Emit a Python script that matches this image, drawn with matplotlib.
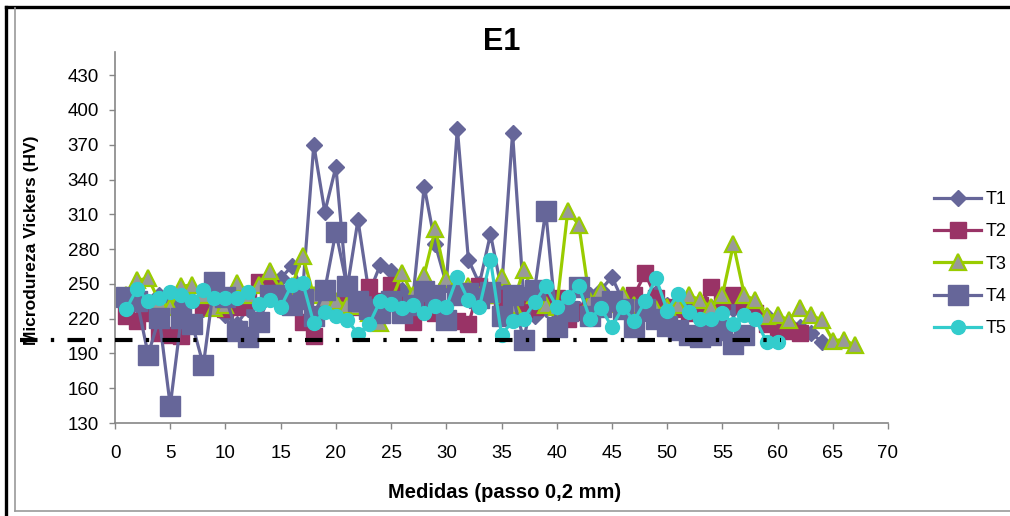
import matplotlib

matplotlib.use("Agg")
import matplotlib.pyplot as plt
from matplotlib.lines import Line2D
import numpy as np

# Vickers microhardness along the weld, five traverses (T1..T5)
t1 = [235, 232, 230, 240, 235, 232, 236, 228, 232, 223, 215, 228, 232, 245, 255, 265,
      245, 370, 312, 351, 245, 305, 242, 266, 261, 245, 240, 334, 284, 250, 384, 271,
      250, 293, 245, 380, 240, 222, 228, 225, 222, 228, 240, 245, 256, 235, 230, 225,
      242, 232, 228, 230, 233, 230, 232, 228, 230, 225, 222, 218, 215, 213, 208, 200]
t2 = [222, 218, 225, 208, 206, 205, 215, 230, 230, 228, 230, 236, 252, 248, 240, 235,
      217, 205, 230, 228, 232, 230, 247, 235, 249, 232, 217, 235, 225, 220, 218, 215,
      248, 240, 238, 225, 228, 230, 235, 238, 220, 226, 232, 230, 235, 228, 240, 259,
      238, 230, 228, 225, 232, 247, 235, 240, 232, 225, 215, 211, 209, 208]
t3 = [240, 253, 255, 235, 230, 248, 249, 240, 229, 232, 251, 240, 249, 261, 245, 248,
      274, 240, 237, 235, 232, 231, 225, 216, 235, 259, 240, 258, 297, 254, 252, 248,
      240, 240, 256, 232, 262, 240, 232, 230, 313, 301, 235, 245, 233, 240, 232, 230,
      228, 230, 232, 240, 236, 230, 240, 284, 240, 236, 222, 223, 219, 229, 223, 219,
      201, 202, 197]
t4 = [239, 235, 189, 221, 145, 221, 215, 180, 252, 239, 209, 204, 217, 240, 240, 232,
      237, 222, 245, 295, 248, 235, 228, 225, 235, 225, 232, 244, 240, 219, 240, 242,
      238, 243, 222, 240, 202, 245, 313, 213, 227, 247, 222, 230, 235, 228, 213, 228,
      220, 214, 210, 206, 204, 206, 210, 198, 206]
t5 = [228, 246, 235, 238, 243, 240, 235, 245, 238, 238, 238, 243, 233, 236, 230, 249,
      251, 216, 226, 222, 219, 207, 215, 235, 233, 229, 232, 225, 231, 230, 256, 236,
      230, 271, 206, 218, 220, 234, 248, 230, 239, 248, 220, 229, 213, 230, 218, 235,
      255, 227, 241, 226, 220, 220, 225, 215, 223, 220, 200, 200]

labels = ["T1", "T2", "T3", "T4", "T5"]
x_ticks = list(range(0, 75, 5))
y_ticks = list(range(130, 460, 30))

ref_level = 202          # hand-drawn dash-dot reference line
ref_span = (-8.6, 60.3)

plt.rcParams["font.family"] = ["Liberation Sans", "DejaVu Sans"]

fig = plt.figure(figsize=(10.1, 5.16), dpi=100)
ax = fig.add_axes([0.1139, 0.1802, 0.7653, 0.719])

slate = "#666699"
styles = [
    dict(color=slate, marker="D", ms=8, mfc=slate, mec=slate),
    dict(color="#993366", marker="s", ms=11, mfc="#993366", mec="#993366"),
    dict(color="#99CC00", marker="^", ms=12, mfc="#999999", mec="#99CC00", mew=1.6),
    dict(color=slate, marker="s", ms=15, mfc=slate, mec=slate),
    dict(color="#33CCCC", marker="o", ms=10, mfc="#33CCCC", mec="#33CCCC"),
]
for series, lab, st in zip([t1, t2, t3, t4, t5], labels, styles):
    xs = np.arange(1, len(series) + 1)
    ax.plot(xs, series, lw=2.3, label=lab, **st)

ax.plot(ref_span, [ref_level, ref_level], color="black", lw=3,
        dashes=(4.2, 3.2, 0.8, 3.2), clip_on=False, zorder=10)

ax.set_xlim(0, 70)
ax.set_ylim(130, 450)
ax.set_xticks(x_ticks)
ax.set_yticks(y_ticks)
for s in ["top", "right"]:
    ax.spines[s].set_visible(False)
for s in ["left", "bottom"]:
    ax.spines[s].set_color("#868686")
    ax.spines[s].set_linewidth(1.2)
ax.tick_params(direction="out", length=4.5, width=1, color="#868686",
               labelsize=13.5)
ax.tick_params(axis="x", pad=11)
ax.tick_params(axis="y", pad=7)

fig.text(0.497, 0.918, "E1", ha="center", va="center", fontsize=22, fontweight="bold")
fig.text(0.5, 0.045, "Medidas (passo 0,2 mm)", ha="center", va="center",
         fontsize=14.5, fontweight="bold")
fig.text(0.031, 0.535, "Microdureza Vickers (HV)", ha="center", va="center",
         rotation=90, fontsize=12.5, fontweight="bold")

fig.legend(loc="center left", bbox_to_anchor=(0.918, 0.488), frameon=False,
           fontsize=13, handlelength=2.6, handletextpad=0.25, labelspacing=0.85,
           borderaxespad=0)

# chart frame: black outer border (top/left) and grey chart-area border
fig.add_artist(Line2D([0.0064, 1], [0.9864, 0.9864], color="black", lw=2.4,
                      transform=fig.transFigure))
fig.add_artist(Line2D([0.0064, 0.0064], [0, 0.9864], color="black", lw=2.4,
                      transform=fig.transFigure))
fig.add_artist(Line2D([0.0149, 0.0149], [0.0106, 0.984], color="#9a9a9a", lw=1.2,
                      transform=fig.transFigure))
fig.add_artist(Line2D([0.0149, 1], [0.0106, 0.0106], color="#9a9a9a", lw=1.2,
                      transform=fig.transFigure))

fig.savefig("out.png", dpi=100)
